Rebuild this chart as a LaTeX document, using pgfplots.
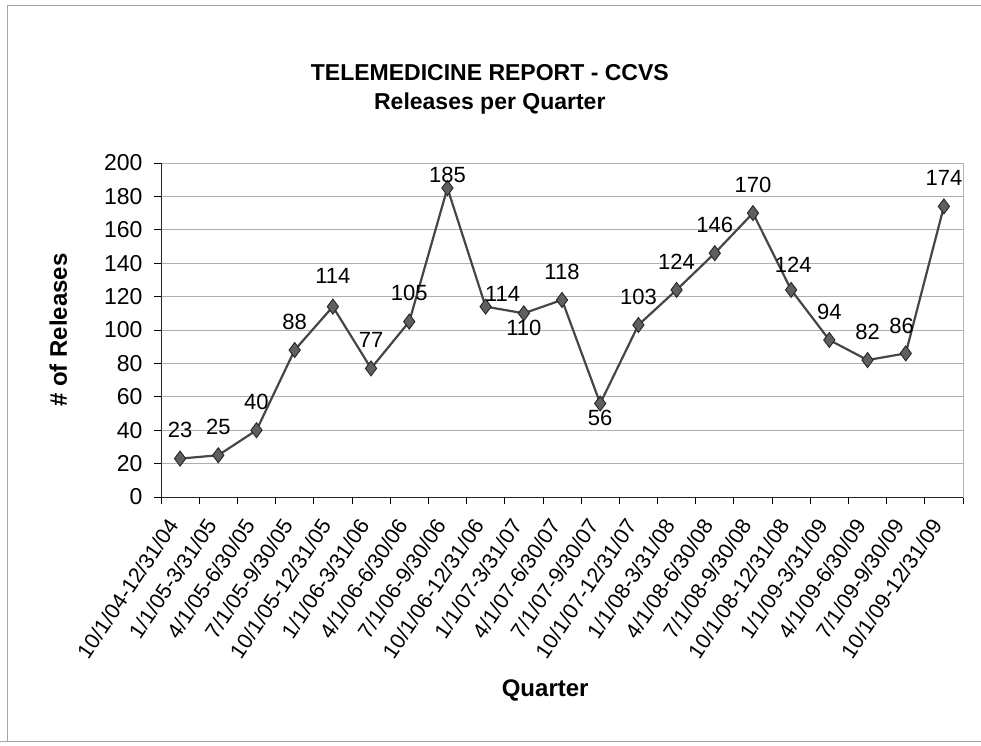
\documentclass[border=0pt]{standalone}
\usepackage{fontspec}
\setmainfont{Liberation Sans}
\usepackage{pgfplots}
\usepackage{pgfplotstable}
\pgfplotsset{compat=1.18}
\definecolor{lineclr}{RGB}{70,70,70}
\definecolor{markfill}{RGB}{95,95,95}
\definecolor{gridclr}{RGB}{175,175,175}
\pgfplotstableread{
x y
0 23
1 25
2 40
3 88
4 114
5 77
6 105
7 185
8 114
9 110
10 118
11 56
12 103
13 124
14 146
15 170
16 124
17 94
18 82
19 86
20 174
}\datatable
\begin{document}
\begin{tikzpicture}[x=1pt,y=1pt]
\useasboundingbox (0,0) rectangle (981,745);
\draw[gray!70, line width=0.8pt] (7,4) -- (7,740) -- (981,740);
\draw[gray!70, line width=0.8pt] (0,4) -- (981,4);
\begin{axis}[
  at={(161pt,248pt)}, anchor=south west,
  scale only axis, width=802pt, height=334pt,
  xmin=-0.5, xmax=20.5, ymin=0, ymax=200,
  xtick={0,...,20},
  xticklabels={10/1/04-12/31/04,1/1/05-3/31/05,4/1/05-6/30/05,7/1/05-9/30/05,10/1/05-12/31/05,1/1/06-3/31/06,4/1/06-6/30/06,7/1/06-9/30/06,10/1/06-12/31/06,1/1/07-3/31/07,4/1/07-6/30/07,7/1/07-9/30/07,10/1/07-12/31/07,1/1/08-3/31/08,4/1/08-6/30/08,7/1/08-9/30/08,10/1/08-12/31/08,1/1/09-3/31/09,4/1/09-6/30/09,7/1/09-9/30/09,10/1/09-12/31/09},
  major x tick style={draw=none},
  minor xtick={-0.5,0.5,...,20.5},
  minor x tick style={black, line width=0.8pt},
  ytick={0,20,...,200},
  xtick pos=lower, ytick pos=left,
  tick align=outside,
  major tick length=7pt, minor tick length=7pt,
  y tick style={black, line width=0.8pt},
  ymajorgrids,
  major grid style={gridclr, line width=0.7pt},
  axis line style={gray!60, line width=0.8pt},
  /pgf/number format/assume math mode=true,
  yticklabel style={font=\fontsize{23}{27}\selectfont, xshift=-8pt},
  xticklabel style={font=\fontsize{21.5}{25}\selectfont, xshift=-7pt, yshift=-17pt, rotate=56, anchor=east, inner sep=0pt},
  ylabel={\textbf{\# of Releases}},
  ylabel style={font=\fontsize{24}{28}\selectfont, at={(axis description cs:-0.128,0.5)}, anchor=center},
  xlabel={\textbf{Quarter}},
  xlabel style={font=\fontsize{24}{28}\selectfont, at={(axis description cs:0.479,-0.578)}, anchor=center},
  clip=false,
  lbl/.style={draw=none, mark=none, nodes near coords,
    nodes near coords style={font=\fontsize{22}{26}\selectfont, text=black, #1}},
]
\addplot[lineclr, line width=2.2pt, mark=diamond*, mark size=7.5pt,
  mark options={fill=markfill, draw=black!85, line width=0.9pt}]
  table[x=x, y=y] {\datatable};
% data labels, grouped by placement
\addplot[lbl={anchor=south, yshift=17pt}] coordinates {
  (0,23) (1,25) (2,40) (3,88) (5,77) (6,105) (10,118) (12,103)
  (13,124) (14,146) (15,170) (17,94) (18,82) (20,174)};
\addplot[lbl={anchor=south, yshift=20pt}] coordinates {(4,114)};
\addplot[lbl={anchor=south, yshift=14pt, xshift=2pt}] coordinates {(16,124)};
\addplot[lbl={anchor=south, yshift=16pt, xshift=-4pt}] coordinates {(19,86)};
\addplot[lbl={anchor=south, yshift=2pt}] coordinates {(7,185)};
\addplot[lbl={anchor=south, yshift=2pt, xshift=17pt}] coordinates {(8,114)};
\addplot[lbl={anchor=north, yshift=-3pt}] coordinates {(9,110) (11,56)};
\draw[black!85, line width=0.9pt] (rel axis cs:0,1) -- (rel axis cs:0,0) -- (rel axis cs:1,0);
\node[font=\fontsize{23}{29}\selectfont\bfseries, align=center] at (axis description cs:0.41,1.22) {TELEMEDICINE REPORT - CCVS\\Releases per Quarter};
\end{axis}
\end{tikzpicture}
\end{document}
